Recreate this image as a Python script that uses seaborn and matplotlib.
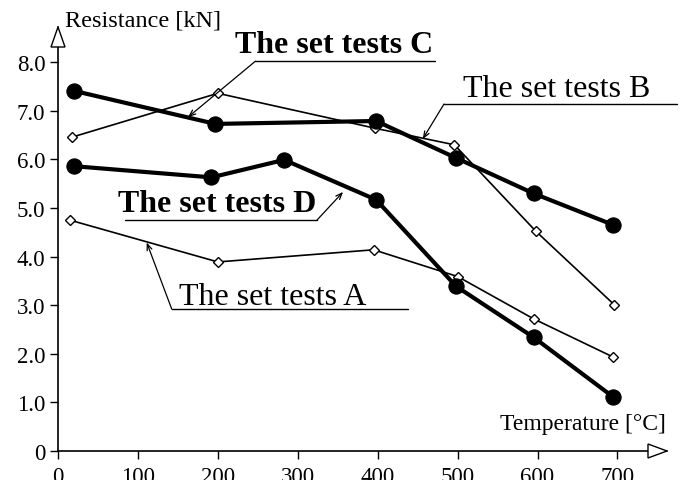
import matplotlib
matplotlib.use("Agg")
import matplotlib.pyplot as plt
import seaborn as sns
import pandas as pd
from matplotlib.patches import Polygon

# ---- data ----
temps_A = [15, 200, 395, 500, 595, 695]
res_A = [4.75, 3.89, 4.14, 3.59, 2.72, 1.93]
temps_B = [18, 200, 397, 496, 598, 696]
res_B = [6.46, 7.36, 6.64, 6.30, 4.52, 3.01]
temps_C = [20, 197, 398, 498, 595, 695]
res_C = [7.41, 6.73, 6.79, 6.03, 5.30, 4.65]
temps_D = [20, 192, 283, 398, 498, 595, 694]
res_D = [5.86, 5.63, 5.99, 5.17, 3.39, 2.34, 1.12]

x_ticks = [0, 100, 200, 300, 400, 500, 600, 700]
y_ticks = [0, 1, 2, 3, 4, 5, 6, 7, 8]
y_tick_labels = ["0", "1.0", "2.0", "3.0", "4.0", "5.0", "6.0", "7.0", "8.0"]

label_A = "The set tests A"
label_B = "The set tests B"
label_C = "The set tests C"
label_D = "The set tests D"

sns.set_style("white")
plt.rcParams["font.family"] = ["Liberation Serif", "DejaVu Serif"]
plt.rcParams["text.color"] = "black"
plt.rcParams["axes.labelcolor"] = "black"
plt.rcParams["xtick.color"] = "black"
plt.rcParams["ytick.color"] = "black"
plt.rcParams["axes.edgecolor"] = "black"

fig = plt.figure(figsize=(6.8, 4.81), dpi=100)
ax = fig.add_axes([58 / 680, 29 / 481, 609 / 680, 424 / 481])

thin = dict(color="black", linewidth=1.2, marker="D", markersize=5.5,
            markerfacecolor="white", markeredgecolor="black", markeredgewidth=1.0)
thick = dict(color="black", linewidth=3.0, marker="o", markersize=11,
             markerfacecolor="black", markeredgecolor="black")

for xs, ys, st in [(temps_A, res_A, thin), (temps_B, res_B, thin),
                   (temps_C, res_C, thick), (temps_D, res_D, thick)]:
    df = pd.DataFrame({"t": xs, "r": ys})
    sns.lineplot(data=df, x="t", y="r", ax=ax, sort=False, estimator=None,
                 clip_on=False, zorder=3, **st)

ax.set_xlim(0, 762)
ax.set_ylim(0, 8.724)
ax.set_xticks(x_ticks)
ax.set_yticks(y_ticks)
ax.set_yticklabels(y_tick_labels)
ax.set_xlabel("")
ax.set_ylabel("")
for s in ["top", "right"]:
    ax.spines[s].set_visible(False)
for s in ["left", "bottom"]:
    ax.spines[s].set_color("black")
    ax.spines[s].set_linewidth(1.2)
ax.tick_params(axis="both", direction="out", length=6, width=1.0, colors="black",
               labelcolor="black", labelsize=16.5, left=True, bottom=True)
ax.tick_params(axis="y", pad=3)
ax.tick_params(axis="x", pad=5)
ax.set_facecolor("white")

# axis arrow heads (open triangles)
w, h = 609.0, 424.0
ax.add_patch(Polygon([(-7 / w, (h - 20) / h), (7 / w, (h - 20) / h), (0, 1)],
                     closed=True, transform=ax.transAxes, facecolor="white",
                     edgecolor="black", linewidth=1.0, clip_on=False, zorder=5))
ax.add_patch(Polygon([(1 - 19 / w, -7 / h), (1 - 19 / w, 7 / h), (1, 0)],
                     closed=True, transform=ax.transAxes, facecolor="white",
                     edgecolor="black", linewidth=1.0, clip_on=False, zorder=5))

# axis titles
ax.text(8.8, 8.745, "Resistance [kN]", fontsize=17.5, ha="left", va="baseline",
        color="black", clip_on=False)
ax.text(760, 0.45, "Temperature [°C]", fontsize=17, ha="right", va="baseline",
        color="black", clip_on=False)

# callout annotations
def callout(text, tx, ty, ul_x0, ul_x1, ul_y, start_x, tip, bold):
    ax.text(tx, ty, text, fontsize=23, ha="center", va="baseline", color="black",
            fontweight="bold" if bold else "normal", clip_on=False, zorder=6)
    ax.plot([ul_x0, ul_x1], [ul_y, ul_y], color="black", linewidth=1.0,
            clip_on=False, zorder=6)
    ax.annotate("", xy=tip, xytext=(start_x, ul_y),
                arrowprops=dict(arrowstyle="->,head_length=0.45,head_width=0.18",
                                color="black", linewidth=0.9, shrinkA=0, shrinkB=0),
                annotation_clip=False, zorder=6)

callout(label_C, 344.8, 8.20, 247, 472, 8.02, 247, (162.7, 6.87), True)
callout(label_B, 624, 7.30, 483, 775, 7.14, 483, (456.4, 6.42), False)
callout(label_D, 199, 4.94, 84, 324, 4.75, 324, (356.7, 5.33), True)
callout(label_A, 269, 3.02, 142.3, 437.7, 2.92, 142.3, (111, 4.29), False)

fig.savefig("out.png", dpi=100, facecolor="white")
